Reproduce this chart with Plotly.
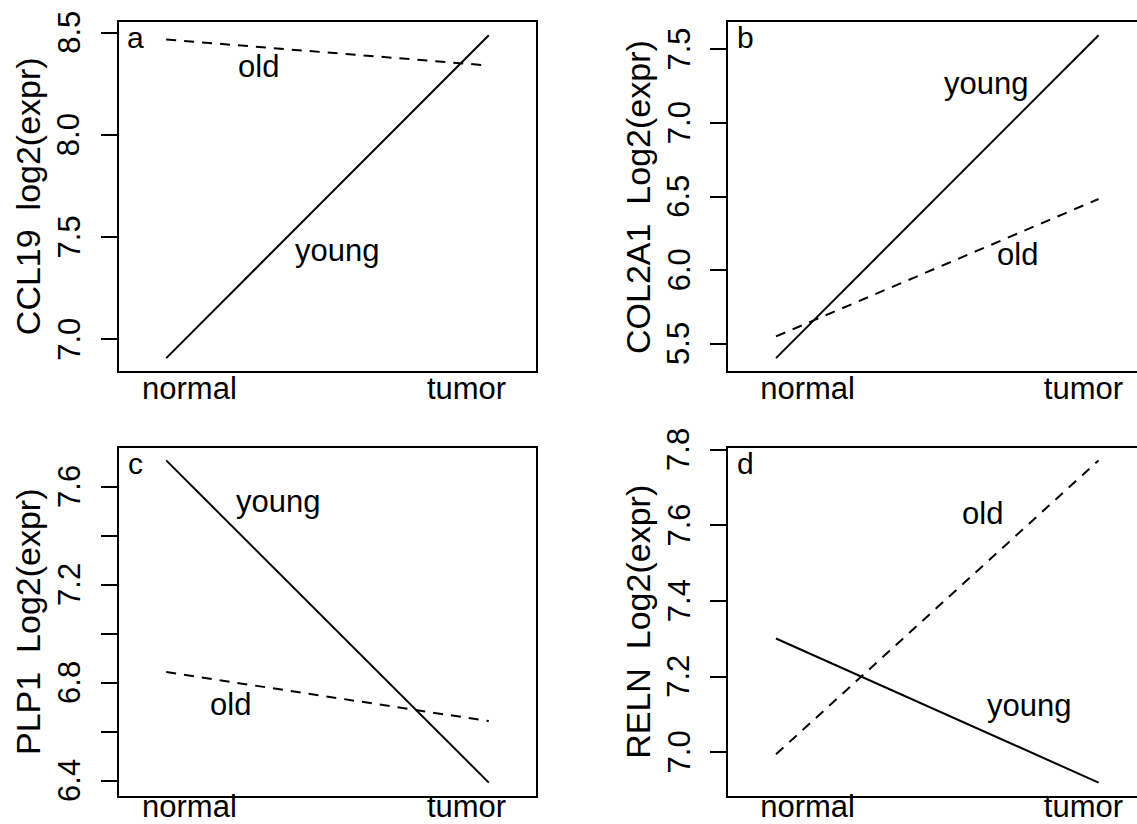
import plotly.graph_objects as go

# ---------------- data ----------------
categories = ["normal", "tumor"]
groups = ["young", "old"]

genes = ["CCL19", "COL2A1", "PLP1", "RELN"]
ytitles = ["CCL19  log2(expr)", "COL2A1  Log2(expr)", "PLP1  Log2(expr)", "RELN  Log2(expr)"]
panel_letters = ["a", "b", "c", "d"]

young_ccl19 = [6.909, 8.487]
old_ccl19 = [8.466, 8.339]
young_col2a1 = [5.403, 7.597]
old_col2a1 = [5.550, 6.484]
young_plp1 = [7.707, 6.392]
old_plp1 = [6.843, 6.643]
young_reln = [7.301, 6.920]
old_reln = [6.995, 7.772]

ticks_ccl19 = [7.0, 7.5, 8.0, 8.5]
ticks_col2a1 = [5.5, 6.0, 6.5, 7.0, 7.5]
ticks_plp1 = [6.4, 6.6, 6.8, 7.0, 7.2, 7.4, 7.6]
ticklabels_plp1 = ["6.4", "", "6.8", "", "7.2", "", "7.6"]
ticks_reln = [7.0, 7.2, 7.4, 7.6, 7.8]

# label positions (x in category units, y in data units)
label_pos = {
    "a": {"young": (1.529, 7.433), "old": (1.287, 8.332)},
    "b": {"young": (1.651, 7.271), "old": (1.749, 6.106)},
    "c": {"young": (1.347, 7.541), "old": (1.199, 6.709)},
    "d": {"young": (1.785, 7.125), "old": (1.641, 7.632)},
}

panels = [
    dict(young=young_ccl19, old=old_ccl19, ticks=ticks_ccl19,
         ticktext=[f"{v:.1f}" for v in ticks_ccl19]),
    dict(young=young_col2a1, old=old_col2a1, ticks=ticks_col2a1,
         ticktext=[f"{v:.1f}" for v in ticks_col2a1]),
    dict(young=young_plp1, old=old_plp1, ticks=ticks_plp1,
         ticktext=ticklabels_plp1),
    dict(young=young_reln, old=old_reln, ticks=ticks_reln,
         ticktext=[f"{v:.1f}" for v in ticks_reln]),
]

# ---------------- layout geometry ----------------
W, H = 1137, 824
FONT = "Liberation Sans, Arial, Helvetica, sans-serif"
box_w = 417.0
px_per_unit = 322.6
x_lo = 1 - 47.7 / px_per_unit
lefts = [118.5, 728.3, 118.5, 728.3]
tops = [22.3, 22.3, 447.5, 447.5]
bottoms = [371.0, 371.0, 795.5, 795.5]
xlab_standoff = [-11, -11, -18, -18]
cat_tick_pos = [[1.072, 1.931], [1.098, 1.953], [1.072, 1.931], [1.098, 1.953]]
ytick_label_offset = 49.2   # px left of the y axis line (centre of rotated label)
ytitle_offset = 91.0

fig = go.Figure()
annotations = []
xs = [i + 1 for i in range(len(categories))]

for i, p in enumerate(panels):
    n = i + 1
    xa = "x" if n == 1 else f"x{n}"
    ya = "y" if n == 1 else f"y{n}"
    fig.add_trace(go.Scatter(x=xs, y=p["young"], mode="lines", xaxis=xa, yaxis=ya,
                             line=dict(color="black", width=2), showlegend=False,
                             name="young"))
    fig.add_trace(go.Scatter(x=xs, y=p["old"], mode="lines", xaxis=xa, yaxis=ya,
                             line=dict(color="black", width=2, dash="10px,8px"),
                             showlegend=False, name="old"))

    allv = p["young"] + p["old"]
    lo, hi = min(allv), max(allv)
    r = hi - lo
    yr = [lo - 0.04 * r, hi + 0.04 * r]

    left = lefts[i]
    right = min(left + box_w, W)
    x_hi = x_lo + (right - left) / px_per_unit
    full_box = (left + box_w) <= W

    xkey = "xaxis" if n == 1 else f"xaxis{n}"
    ykey = "yaxis" if n == 1 else f"yaxis{n}"
    fig.update_layout(**{
        xkey: dict(domain=[left / W, right / W], range=[x_lo, x_hi],
                   anchor=ya, showgrid=False, zeroline=False, automargin=False,
                   showline=True, mirror=True, linecolor="black", linewidth=2,
                   tickvals=cat_tick_pos[i], ticktext=categories, ticks="",
                   ticklabelstandoff=xlab_standoff[i],
                   tickfont=dict(family=FONT, size=31, color="black"),
                   fixedrange=True),
        ykey: dict(domain=[1 - bottoms[i] / H, 1 - tops[i] / H], range=yr,
                   anchor=xa, showgrid=False, zeroline=False, automargin=False,
                   showline=True, mirror=full_box, linecolor="black", linewidth=2,
                   tickvals=p["ticks"], ticktext=p["ticktext"],
                   ticks="outside", ticklen=16, tickwidth=2, tickcolor="black",
                   showticklabels=False,
                   fixedrange=True),
    })

    # rotated y tick labels, placed on the y scale
    for tv, tt in zip(p["ticks"], p["ticktext"]):
        if not tt:
            continue
        annotations.append(dict(x=(left - ytick_label_offset) / W, y=tv,
                                xref="paper", yref=ya, text=tt, textangle=-90,
                                showarrow=False, xanchor="center", yanchor="middle",
                                font=dict(family=FONT, size=31, color="black")))

    letter = panel_letters[i]
    annotations.append(dict(x=0.905, y=yr[1] - (yr[1] - yr[0]) * 0.045, xref=xa, yref=ya,
                            text=letter, showarrow=False, xanchor="center", yanchor="middle",
                            font=dict(family=FONT, size=30, color="black")))
    for g in groups:
        gx, gy = label_pos[letter][g]
        annotations.append(dict(x=gx, y=gy, xref=xa, yref=ya, text=g, showarrow=False,
                                xanchor="center", yanchor="middle",
                                font=dict(family=FONT, size=31, color="black")))
    # y-axis title
    annotations.append(dict(x=(left - ytitle_offset) / W, y=1 - (tops[i] + bottoms[i]) / 2 / H,
                            xref="paper", yref="paper",
                            text=ytitles[i].replace("  ", "\u00a0\u00a0"),
                            textangle=-90, showarrow=False,
                            xanchor="center", yanchor="middle",
                            font=dict(family=FONT, size=34, color="black")))

fig.update_layout(width=W, height=H, autosize=False,
                  margin=dict(l=0, r=0, t=0, b=0, pad=0),
                  paper_bgcolor="white", plot_bgcolor="white",
                  annotations=annotations, showlegend=False)

fig.write_html("out.html", config={"displayModeBar": False},
               post_script="document.body.style.margin='0';document.body.style.overflow='hidden';")
